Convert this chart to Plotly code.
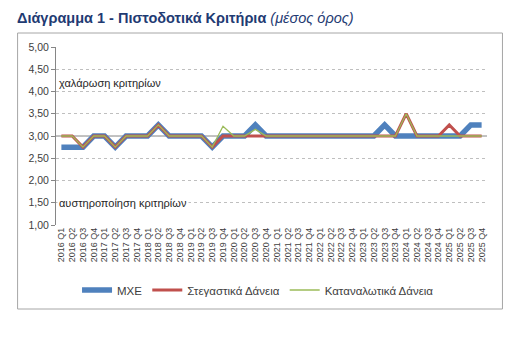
import plotly.graph_objects as go

years = list(range(2016, 2026))
quarters = ["Q1", "Q2", "Q3", "Q4"]
categories = [f"{y} {q}" for y in years for q in quarters]

mxe = [2.75, 2.75, 2.75, 3.00, 3.00, 2.75, 3.00, 3.00, 3.00, 3.25,
       3.00, 3.00, 3.00, 3.00, 2.75, 3.00, 3.00, 3.00, 3.25, 3.00,
       3.00, 3.00, 3.00, 3.00, 3.00, 3.00, 3.00, 3.00, 3.00, 3.00,
       3.25, 3.00, 3.00, 3.00, 3.00, 3.00, 3.00, 3.00, 3.25, 3.25]
housing = [3.00, 3.00, 2.75, 3.00, 3.00, 2.75, 3.00, 3.00, 3.00, 3.25,
           3.00, 3.00, 3.00, 3.00, 2.75, 3.00, 3.00, 3.00, 3.00, 3.00,
           3.00, 3.00, 3.00, 3.00, 3.00, 3.00, 3.00, 3.00, 3.00, 3.00,
           3.00, 3.00, 3.50, 3.00, 3.00, 3.00, 3.25, 3.00, 3.00, 3.00]
consumer = [3.00, 3.00, 2.75, 3.00, 3.00, 2.75, 3.00, 3.00, 3.00, 3.25,
            3.00, 3.00, 3.00, 3.00, 2.75, 3.22, 3.00, 3.00, 3.15, 3.00,
            3.00, 3.00, 3.00, 3.00, 3.00, 3.00, 3.00, 3.00, 3.00, 3.00,
            3.00, 3.00, 3.50, 3.00, 3.00, 3.00, 3.00, 3.00, 3.00, 3.00]

y_ticks = [1.0, 1.5, 2.0, 2.5, 3.0, 3.5, 4.0, 4.5, 5.0]

W, H = 528, 342
L, R, T, B = 55.5, 40.5, 47, 117
pw, ph = W - L - R, H - T - B

def px(x):
    return (x - L) / pw

def py(y):
    return (H - B - y) / ph

fig = go.Figure()
fig.add_trace(go.Scatter(x=categories, y=mxe, name="ΜΧΕ", mode="lines",
                         line=dict(color="#4F81BD", width=5.5)))
fig.add_trace(go.Scatter(x=categories, y=housing, name="Στεγαστικά Δάνεια", mode="lines",
                         line=dict(color="#C0504D", width=3)))
fig.add_trace(go.Scatter(x=categories, y=consumer, name="Καταναλωτικά Δάνεια", mode="lines",
                         line=dict(color="#9BBB59", width=1.3)))

font_main = "Liberation Sans, Arial, sans-serif"

fig.update_layout(
    width=W, height=H,
    margin=dict(l=L, r=R, t=T, b=B),
    paper_bgcolor="white", plot_bgcolor="white",
    separators=",.",
    font=dict(family=font_main, color="#404040"),
    title=dict(
        text="<b>Διάγραμμα 1 - Πιστοδοτικά Κριτήρια</b> <i>(μέσος όρος)</i>",
        xref="container", yref="container",
        x=17 / W, xanchor="left", y=1 - 17.5 / H, yanchor="middle",
        font=dict(family=font_main, size=14.5, color="#1F3B73"),
    ),
    xaxis=dict(
        type="category", range=[-0.5, len(categories) - 0.5],
        tickmode="array", tickvals=categories, ticktext=categories,
        tickangle=-90, tickfont=dict(size=9, color="#404040"),
        showgrid=False, showline=False, ticks="", zeroline=False,
    ),
    yaxis=dict(
        range=[1, 5], tickvals=y_ticks, tickformat=".2f",
        tickfont=dict(size=10.5, color="#404040"),
        showgrid=True, gridcolor="#BFBFBF", griddash="dot", gridwidth=1,
        showline=True, linecolor="#868686", linewidth=1,
        ticks="outside", ticklen=4, tickcolor="#868686",
        zeroline=False,
    ),
    legend=dict(
        orientation="h", x=px(258), xanchor="center", y=py(290), yanchor="middle",
        font=dict(size=11.5, color="#404040"), bgcolor="rgba(0,0,0,0)",
        traceorder="normal",
    ),
    showlegend=True,
)

# category axis line crossing at 3,00
fig.add_shape(type="line", xref="paper", yref="y", x0=0, x1=1, y0=3, y1=3,
              line=dict(color="#868686", width=1), layer="below")
# chart border
fig.add_shape(type="rect", xref="paper", yref="paper",
              x0=px(17), x1=px(503), y0=py(309), y1=py(33),
              line=dict(color="#A6A6A6", width=1), layer="below")

fig.add_annotation(text="χαλάρωση κριτηρίων", xref="paper", yref="y",
                   x=px(57), y=4.18, xanchor="left", yanchor="middle", showarrow=False,
                   font=dict(size=11, color="#262626"))
fig.add_annotation(text="αυστηροποίηση κριτηρίων", xref="paper", yref="y",
                   x=px(57), y=1.5, xanchor="left", yanchor="middle", showarrow=False,
                   font=dict(size=11, color="#262626"), bgcolor="white")

fig.write_html("out.html")
